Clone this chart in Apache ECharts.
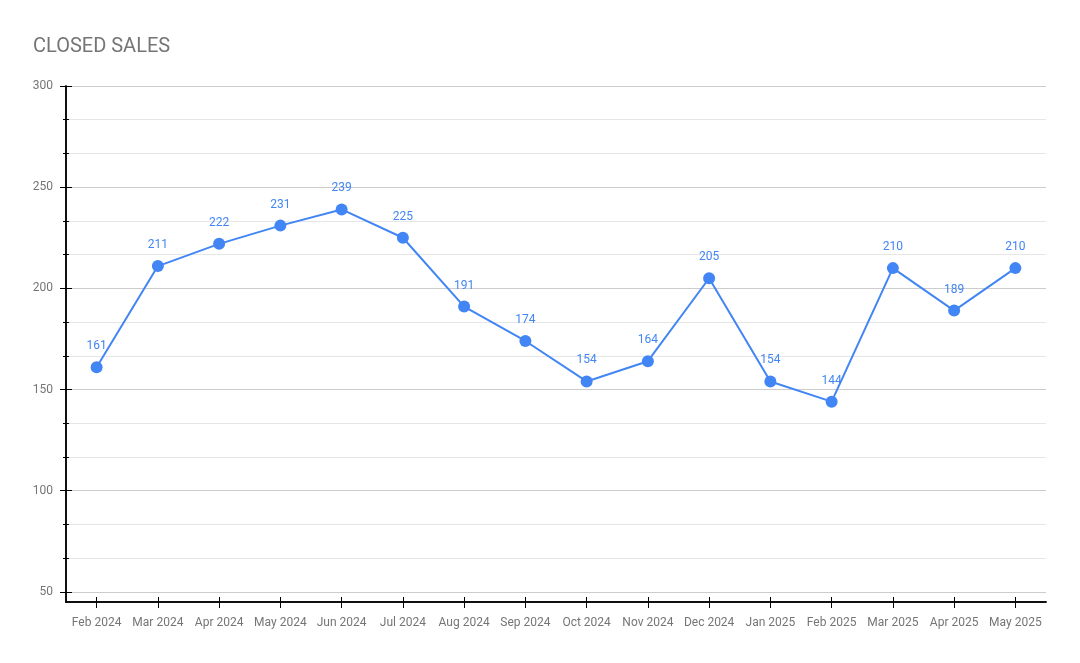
<!DOCTYPE html>
<html><head><meta charset="utf-8">
<script src="https://cdn.jsdelivr.net/npm/echarts@6/dist/echarts.min.js"></script>
<style>html,body{margin:0;padding:0;background:#fff}#c{width:1080px;height:663px}</style>
</head><body><div id="c"></div>
<script>
const title = 'CLOSED SALES';
const months = ['Feb 2024','Mar 2024','Apr 2024','May 2024','Jun 2024','Jul 2024','Aug 2024','Sep 2024','Oct 2024','Nov 2024','Dec 2024','Jan 2025','Feb 2025','Mar 2025','Apr 2025','May 2025'];
const closedSales = [161,211,222,231,239,225,191,174,154,164,205,154,144,210,189,210];
const yTicks = [50,100,150,200,250,300];
const yMin = 45, yMax = 300;

const font = 'Roboto, "Noto Sans", sans-serif';
const chart = echarts.init(document.getElementById('c'), null, {renderer:'canvas'});
const yBase = {
  type:'value', min:yMin, max:yMax, splitNumber:5,
  axisLine:{show:true, lineStyle:{color:'#000', width:1.5}},
};
const xBase = {
  type:'category', data:months, boundaryGap:true,
  axisLine:{show:true, lineStyle:{color:'#000', width:1.5}}
};
chart.setOption({
  animation:false,
  title:{text:title, left:28, top:32, textStyle:{fontFamily:font, fontSize:20, fontWeight:'normal', color:'#757575'}},
  grid:{left:66, right:34, top:86, bottom:61, containLabel:false},
  xAxis:[
    Object.assign({}, xBase, {
      axisTick:{show:true, interval:0, alignWithLabel:true, length:6, lineStyle:{color:'#000'}},
      axisLabel:{interval:0, fontFamily:font, fontSize:12, color:'#757575', margin:15},
      splitLine:{show:false}
    }),
    Object.assign({}, xBase, {
      position:'bottom',
      axisTick:{show:true, interval:0, inside:true, alignWithLabel:true, length:5, lineStyle:{color:'#000'}},
      axisLabel:{show:false}, splitLine:{show:false}
    })
  ],
  yAxis:[
    Object.assign({}, yBase, {
      axisTick:{show:true, length:6, customValues:yTicks, lineStyle:{color:'#000'}},
      axisLabel:{fontFamily:font, fontSize:12, color:'#757575', margin:13, customValues:yTicks},
      splitLine:{show:true, lineStyle:{color:'#cccccc', width:1}},
      minorTick:{show:true, splitNumber:3, length:3, lineStyle:{color:'#000'}},
      minorSplitLine:{show:true, lineStyle:{color:'#e6e6e6', width:1}}
    }),
    Object.assign({}, yBase, {
      position:'left',
      axisTick:{show:true, inside:true, length:6, customValues:yTicks, lineStyle:{color:'#000'}},
      axisLabel:{show:false},
      splitLine:{show:false},
      minorTick:{show:true, inside:true, splitNumber:3, length:3, lineStyle:{color:'#000'}},
      minorSplitLine:{show:false}
    })
  ],
  series:[{
    type:'line', data:closedSales, xAxisIndex:0, yAxisIndex:0,
    symbol:'circle', symbolSize:12,
    lineStyle:{color:'#4285F4', width:2},
    itemStyle:{color:'#4285F4'},
    label:{show:true, position:'top', distance:9, fontFamily:font, fontSize:12, color:'#4285F4'}
  }]
});
</script></body></html>
